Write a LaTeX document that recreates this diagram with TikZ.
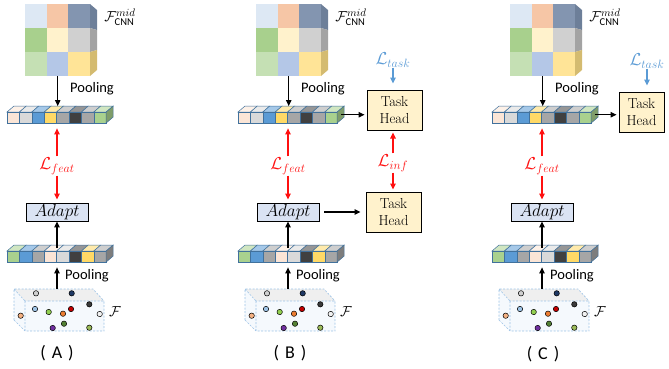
\documentclass[tikz,border=0pt]{standalone}
\usepackage{fontspec}
\setmainfont{Carlito}
\newfontfamily\lmserif{Latin Modern Roman}
\usetikzlibrary{arrows.meta}
\definecolor{cA1}{HTML}{DDE8F4}\definecolor{cA2}{HTML}{F6C6A6}\definecolor{cA3}{HTML}{8395B0}
\definecolor{cB1}{HTML}{A8D08D}\definecolor{cB2}{HTML}{FFF2CC}\definecolor{cB3}{HTML}{D0D0D0}
\definecolor{cC1}{HTML}{C5E0B4}\definecolor{cC2}{HTML}{B4C7E7}\definecolor{cC3}{HTML}{FFE497}
\definecolor{sA}{HTML}{6D7F99}\definecolor{sB}{HTML}{A3A3A3}\definecolor{sC}{HTML}{D4BB70}
\definecolor{vpch}{HTML}{FBE5D6}\definecolor{vlgr}{HTML}{D9D9D9}\definecolor{vblue}{HTML}{5B9BD5}
\definecolor{vyel}{HTML}{FFD966}\definecolor{vgray}{HTML}{A6A6A6}\definecolor{vdark}{HTML}{404040}
\definecolor{vgreen}{HTML}{A9D18E}\definecolor{vedge}{HTML}{41719C}
\definecolor{adaptfill}{HTML}{DAE3F3}\definecolor{headfill}{HTML}{FFF2CC}
\definecolor{taskblue}{HTML}{5B9BD5}\definecolor{lossred}{HTML}{FF1010}
\definecolor{clouddash}{HTML}{9DC3E6}\definecolor{cloudtop}{HTML}{EFEFEF}\definecolor{cloudfront}{HTML}{F5F9FD}
\definecolor{d1}{HTML}{D0D0D0}\definecolor{d2}{HTML}{1F3864}\definecolor{d3}{HTML}{3A3A3A}
\definecolor{d4}{HTML}{9DC3E6}\definecolor{d5}{HTML}{92D050}\definecolor{d6}{HTML}{ED7D31}
\definecolor{d7}{HTML}{C00000}\definecolor{d8}{HTML}{F2F2F2}\definecolor{d9}{HTML}{F4B183}
\definecolor{d10}{HTML}{548235}\definecolor{d11}{HTML}{7030A0}\definecolor{d12}{HTML}{9BBB59}
\tikzset{
  blk/.style={-{Triangle[length=6pt,width=5.5pt]},line width=1.1pt,black},
  redarr/.style={-{Triangle[length=6pt,width=5.5pt]},line width=1.1pt,lossred},
  bluearr/.style={-{Triangle[length=6pt,width=5.5pt]},line width=1.1pt,taskblue},
  adaptbox/.style={draw=black,fill=adaptfill,line width=0.9pt,minimum width=62pt,minimum height=18pt,inner sep=0pt,font=\fontsize{16.5}{16}\selectfont},
  headbox/.style={draw=black,fill=headfill,line width=1pt,minimum width=55pt,minimum height=40pt,inner sep=0pt,align=center,font=\lmserif\fontsize{14.5}{16.5}\selectfont},
  pooltxt/.style={font=\fontsize{14.5}{15}\selectfont,inner sep=0pt},
  losstxt/.style={font=\fontsize{16.5}{16}\selectfont,inner sep=1pt},
  captxt/.style={font=\fontsize{18}{18}\selectfont,inner sep=0pt},
  dot/.style={draw=black,line width=0.5pt},
}
% feature vector: #1 name, #2 x, #3 y (front top), #4 colors, #5 side colour
\newcommand\featvec[5]{%
  \foreach \c [count=\i from 0] in {#4} {
    \pgfmathsetmacro\xa{#2+\i*12.4}
    \filldraw[fill=\c!55!white,draw=vedge,line width=0.5pt] (\xa,#3) -- ++(7,-6) -- ++(12.4,0) -- ++(-7,6) -- cycle;
    \filldraw[fill=\c,draw=vedge,line width=0.5pt] (\xa,#3) rectangle ++(12.4,11);
  }
  \filldraw[fill=#5,draw=vedge,line width=0.5pt] (#2+99.2,#3) -- ++(7,-6) -- ++(0,11) -- ++(-7,6) -- cycle;
  \node[inner sep=0pt,minimum width=106pt,minimum height=17pt,anchor=north west] (#1) at (#2,#3-6) {};
}
\newcommand\panel[1]{%
  % cube
  \fill[cA1] (25,4) rectangle (46.7,28);\fill[cA2] (46.7,4) rectangle (68.3,28);\fill[cA3] (68.3,4) rectangle (90,28);
  \fill[cB1] (25,28) rectangle (46.7,52);\fill[cB2] (46.7,28) rectangle (68.3,52);\fill[cB3] (68.3,28) rectangle (90,52);
  \fill[cC1] (25,52) rectangle (46.7,76);\fill[cC2] (46.7,52) rectangle (68.3,76);\fill[cC3] (68.3,52) rectangle (90,76);
  \fill[sA] (90,4) -- (97,10) -- (97,30) -- (90,28) -- cycle;
  \fill[sB] (90,28) -- (97,30) -- (97,50) -- (90,52) -- cycle;
  \fill[sC] (90,52) -- (97,50) -- (97,70) -- (90,76) -- cycle;
  \node[inner sep=0pt,minimum width=65pt,minimum height=72pt,anchor=north west] (cube#1) at (25,4) {};
  \node[inner sep=0pt] (fcnn#1) at (120,17) {\fontsize{15.5}{15}\selectfont$\mathcal{F}^{mid}_{\mbox{\fontsize{10.5}{10}\selectfont CNN}}$};
  \featvec{vt#1}{7}{112}{vpch,vlgr,vblue,vyel,vgray,vdark,vgray,vgreen}{vgreen!75!black}
  \draw[blk] (cube#1.south) -- (cube#1.south |- vt#1.north);
  \node[pooltxt] (poolt#1) at (92,89) {Pooling};
  \node[adaptbox] (adapt#1) at (57,212) {$Adapt$};
  \node[losstxt,text=lossred] (lf#1) at (57,166) {$\mathcal{L}_{feat}$};
  \draw[redarr,shorten >=5pt] (lf#1) -- (lf#1 |- vt#1.south);
  \draw[redarr,shorten >=3pt] (lf#1) -- (adapt#1);
  \featvec{vb#1}{7}{251}{vgreen,vblue,vgray,vpch,vlgr,vdark,vyel,vgray}{vgray!75!black}
  \coordinate (vbin#1) at (57,248);
  \draw[blk] (vbin#1) -- (adapt#1);
  % point cloud
  \fill[cloudtop] (14,289) -- (93,289) -- (104,301) -- (25,301) -- cycle;
  \fill[cloudfront] (14,289) -- (25,301) -- (25,331) -- (14,320) -- cycle;
  \fill[cloudfront] (25,301) rectangle (104,331);
  \draw[clouddash,dashed,dash pattern=on 2pt off 1.5pt,line width=0.6pt]
     (25,301) rectangle (104,331)
     (14,320) -- (14,289) -- (93,289) -- (104,301)
     (14,320) -- (25,331) (14,289) -- (25,301);
  \node[inner sep=0pt,minimum width=90pt,minimum height=42pt,anchor=north west] (cloud#1) at (14,289) {};
  \foreach \px/\py/\col in {36/293.3/d1,71.7/293.3/d2,89.3/304.3/d3,35/309/d4,48.7/312/d5,63/313.7/d6,71/309/d7,99.7/314/d8,20.7/315.7/d9,64/323.7/d10,52.7/328/d11,89.3/327.7/d12}
    \filldraw[dot,fill=\col] (\px,\py) circle (2.7);
  \coordinate (cltop#1) at (57,289);
  \draw[blk,shorten >=5pt] (cltop#1) -- (cltop#1 |- vb#1.south);
  \node[pooltxt] (poolb#1) at (87,276) {Pooling};
  \node[inner sep=0pt] (F#1) at (115,312) {\fontsize{15}{15}\selectfont$\mathcal{F}$};
}
\begin{document}
\begin{tikzpicture}[x=1pt,y=-1pt]
\useasboundingbox (0,0) rectangle (669,368);
% Panel A
\begin{scope}
  \panel{A}
  \node[captxt] (labA) at (57,353) {(\hspace{6pt}A\hspace{6pt})};
\end{scope}
% Panel B
\begin{scope}[xshift=231pt]
  \panel{B}
  \node[captxt] (labB) at (59,353) {(\hspace{6pt}B\hspace{6pt})};
  \node[headbox] (thB1) at (163.5,110) {Task\\Head};
  \node[headbox] (thB2) at (162.5,212) {Task\\Head};
  \node[losstxt,text=taskblue] (ltB) at (162,60) {$\mathcal{L}_{task}$};
  \node[losstxt,text=lossred] (liB) at (162,163) {$\mathcal{L}_{inf}$};
  \draw[bluearr,shorten >=6pt] (ltB) -- (ltB |- thB1.north);
  \draw[redarr,shorten >=2pt] (liB) -- (liB |- thB1.south);
  \draw[redarr,shorten >=2pt] (liB) -- (liB |- thB2.north);
  \draw[blk,shorten <=-3pt,shorten >=2pt] (vtB.east) -- (vtB.east -| thB1.west);
  \draw[blk,shorten <=5pt,shorten >=5pt] (adaptB.east) -- (adaptB.east -| thB2.west);
\end{scope}
% Panel C
\begin{scope}[xshift=485pt]
  \panel{C}
  \node[captxt] (labC) at (58,354) {(\hspace{6pt}C\hspace{6pt})};
  \node[headbox,minimum width=45pt] (thC) at (156.5,112) {Task\\Head};
  \node[losstxt,text=taskblue] (ltC) at (162,61) {$\mathcal{L}_{task}$};
  \draw[bluearr,shorten >=6pt] (ltC) -- (ltC |- thC.north);
  \draw[blk,shorten <=-3pt,shorten >=2pt] (vtC.east) -- (vtC.east -| thC.west);
\end{scope}
\end{tikzpicture}
\end{document}
